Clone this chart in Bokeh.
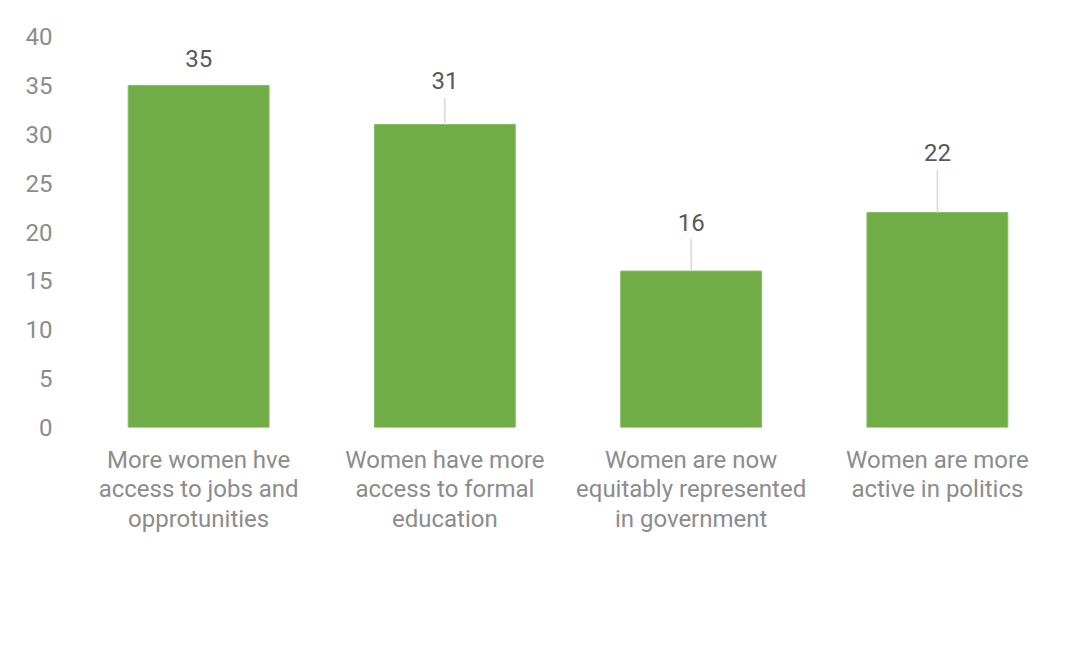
from bokeh.plotting import figure
from bokeh.models import Range1d, FactorRange, ColumnDataSource
from bokeh.embed import file_html
from bokeh.resources import INLINE
from bokeh.core.properties import value

categories = [
    "More women hve\naccess to jobs and\nopprotunities",
    "Women have more\naccess to formal\neducation",
    "Women are now\nequitably represented\nin government",
    "Women are more\nactive in politics",
]
counts = [35, 31, 16, 22]
y_ticks = [0, 5, 10, 15, 20, 25, 30, 35, 40]

# label placement (pixels above bar top) and whether a leader line is drawn
label_lift_px = [26.5, 43.5, 49, 59.5]
leader = [False, True, True, True]

W, H = 1060, 630
frame_top, frame_bottom = 36, 426.5
ppu = (frame_bottom - frame_top) / 40.0

p = figure(
    width=W, height=H,
    x_range=FactorRange(factors=categories),
    y_range=Range1d(0, 40),
    output_backend="svg", toolbar_location=None,
    min_border_left=75, min_border_right=0,
    min_border_top=36, min_border_bottom=int(H - frame_bottom),
)
p.outline_line_color = None
p.grid.grid_line_color = None
p.background_fill_color = "white"
p.border_fill_color = "white"

src = ColumnDataSource(dict(x=categories, top=counts))
p.vbar(x="x", top="top", width=0.572, source=src,
       fill_color="#70AD47", line_color="#86bd63", line_width=1)

lx, ly0, ly1 = [], [], []
for c, v, lift, ld in zip(categories, counts, label_lift_px, leader):
    if ld:
        lx.append(c)
        ly0.append(v)
        ly1.append(v + (lift - 17) / ppu)
p.segment(x0=lx, y0=ly0, x1=lx, y1=ly1, line_color="#d9d9d9", line_width=1.5)

p.text(x=categories, y=counts, text=[str(v) for v in counts],
       y_offset=[-l for l in label_lift_px],
       text_align="center", text_baseline="middle",
       text_font=value("Roboto"), text_font_size="24px", text_color="#595959")

ya = p.yaxis[0]
ya.ticker = y_ticks
ya.axis_line_color = None
ya.major_tick_line_color = None
ya.minor_tick_line_color = None
ya.major_tick_out = 0
ya.major_tick_in = 0
ya.minor_tick_out = 0
ya.major_label_standoff = 23
ya.major_label_text_font = "Roboto"
ya.major_label_text_font_size = "24px"
ya.major_label_text_color = "#8c8c8c"

xa = p.xaxis[0]
xa.axis_line_color = None
xa.major_tick_line_color = None
xa.minor_tick_line_color = None
xa.major_tick_out = 0
xa.major_tick_in = 0
xa.major_label_standoff = 18
xa.major_label_text_font = "Roboto"
xa.major_label_text_font_size = "24px"
xa.major_label_text_color = "#8c8c8c"
xa.major_label_text_line_height = 1.07
xa.major_label_orientation = "horizontal"

open("out.html", "w").write(file_html(p, INLINE))
